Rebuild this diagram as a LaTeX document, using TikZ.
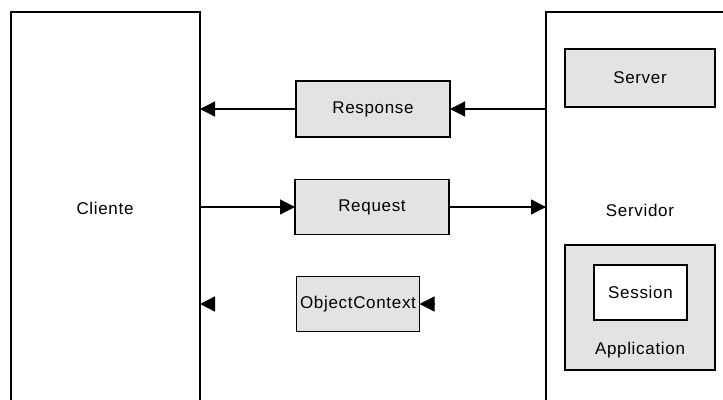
\documentclass[tikz,border=0pt]{standalone}
\usepackage{fontspec}
\setmainfont{Liberation Sans}[LetterSpace=4]
\usetikzlibrary{arrows.meta,calc}

\tikzset{
  panel/.style={draw, line width=1.3pt, anchor=north west, inner sep=0pt, outer sep=0pt},
  part/.style={draw, line width=1.3pt, fill=gray!22, inner sep=0pt, outer sep=0pt},
  inner/.style={draw, line width=1.3pt, fill=white, inner sep=0pt},
  arr/.style={line width=1.3pt, -{Triangle[length=15pt,width=15pt]}},
  txt/.style={font=\fontsize{17}{20}\selectfont}
}

\begin{document}
\begin{tikzpicture}[x=1pt, y=-1pt, every node/.style={txt}]
      \useasboundingbox (0,0) rectangle (723,399);
      \clip (0,0) rectangle (723,399);
      % Define nodes
      \node[panel, minimum width=189pt, minimum height=420pt] (cliente) at (11,12) {};
      \node[panel, minimum width=200pt, minimum height=420pt] (servidor) at (546,12) {};
      \node (clientetxt) at (105,208) {Cliente};
      \node (servidortxt) at (640,210) {Servidor};
      \node[part, minimum width=154pt, minimum height=56pt] (response) at (373,109) {Response};
      \node[part, minimum width=154pt, minimum height=55pt] (request) at (372,207) {Request};
      \node[part, minimum width=123pt, minimum height=55pt] (objctx) at (358,304) {ObjectContext};
      \node[part, minimum width=150pt, minimum height=58pt] (server) at (640,78) {Server};
      \node[part, minimum width=150pt, minimum height=125pt] (application) at (640,307.5) {};
      \node[inner, minimum width=93pt, minimum height=55pt] (session) at (640.5,292.5) {Session};
      \node (applicationtxt) at (640,350) {Application};
      \coordinate (octail) at ([xshift=14pt]objctx.east);
      \coordinate (cltail) at (214,304);
      % Connect nodes
      \draw[arr] (response.east -| servidor.west) -- (response.east);
      \draw[arr] (response.west) -- (response.west -| cliente.east);
      \draw[arr] (request.west -| cliente.east) -- (request.west);
      \draw[arr] (request.east) -- (request.east -| servidor.west);
      \draw[arr] (octail) -- (objctx.east);
      \draw[arr] (cltail) -- (cltail -| cliente.east);
\end{tikzpicture}
\end{document}
